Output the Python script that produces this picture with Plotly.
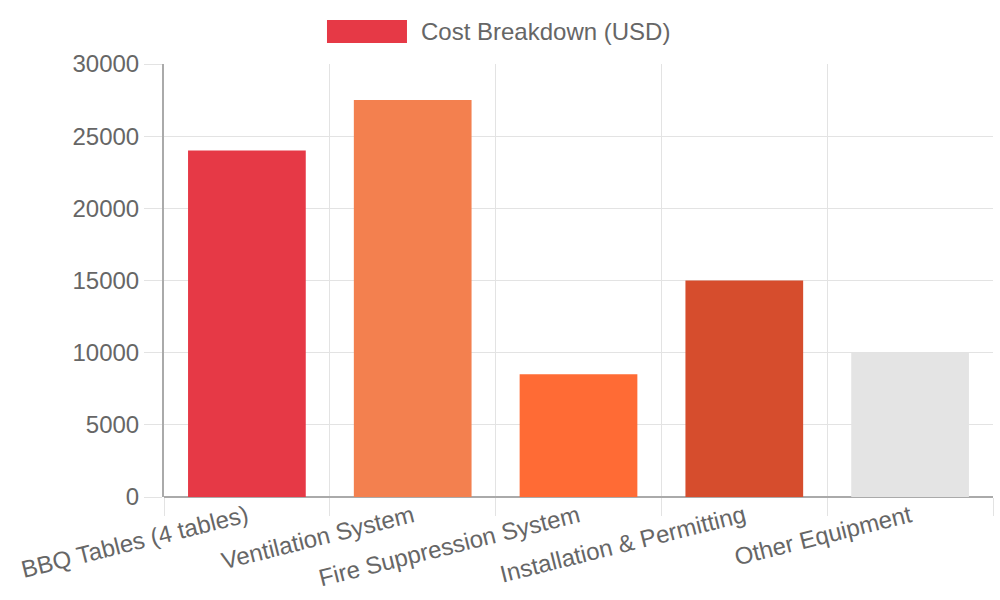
import plotly.graph_objects as go

# Cost data
categories = [
    "BBQ Tables (4 tables)",
    "Ventilation System",
    "Fire Suppression System",
    "Installation & Permitting",
    "Other Equipment",
]
costs = [24000, 27500, 8500, 15000, 10000]
bar_colors = ["#E63946", "#F3804F", "#FF6B35", "#D64D2D", "#E4E4E4"]
series_name = "Cost Breakdown (USD)"

FONT = "Liberation Sans, Arial, sans-serif"
TEXT_COLOR = "#666666"
GRID_COLOR = "#E3E3E3"

fig = go.Figure()

fig.add_trace(
    go.Bar(
        x=categories,
        y=costs,
        name=series_name,
        marker=dict(color=bar_colors, line=dict(width=0)),
        showlegend=False,
    )
)

# Chart.js style legend: wide colour box + label, centred above the plot
fig.add_shape(
    type="rect",
    xref="paper", yref="paper",
    x0=0.1966, x1=0.2931, y0=1.0485, y1=1.1016,
    fillcolor=bar_colors[0],
    line=dict(width=0),
)
fig.add_annotation(
    x=0.3076, y=1.0745,
    xref="paper", yref="paper",
    xanchor="left", yanchor="middle",
    text=series_name,
    showarrow=False,
    font=dict(size=24, color=TEXT_COLOR, family=FONT),
)

fig.update_layout(
    width=1000,
    height=600,
    margin=dict(l=164, r=7, t=64, b=103),
    paper_bgcolor="white",
    plot_bgcolor="white",
    font=dict(family=FONT, size=24, color=TEXT_COLOR),
    bargap=0.29,
    xaxis=dict(
        automargin=False,
        tickson="boundaries",
        showgrid=True,
        gridcolor=GRID_COLOR,
        ticks="outside",
        ticklen=18,
        tickcolor=GRID_COLOR,
        tickangle=-14,
        showline=False,
        tickfont=dict(size=24, color=TEXT_COLOR),
    ),
    yaxis=dict(
        automargin=False,
        range=[0, 30000],
        dtick=5000,
        showgrid=True,
        gridcolor=GRID_COLOR,
        zeroline=True,
        zerolinecolor="#AAAAAA",
        zerolinewidth=2,
        showline=True,
        linecolor="#AAAAAA",
        linewidth=2,
        ticks="outside",
        ticklen=18,
        tickcolor=GRID_COLOR,
        tickformat="d",
        tickfont=dict(size=24, color=TEXT_COLOR),
    ),
)

# drop the default page margin so the figure sits at the window origin
fig.write_html(
    "out.html",
    config={"displayModeBar": False},
    post_script="document.body.style.margin='0';",
)
